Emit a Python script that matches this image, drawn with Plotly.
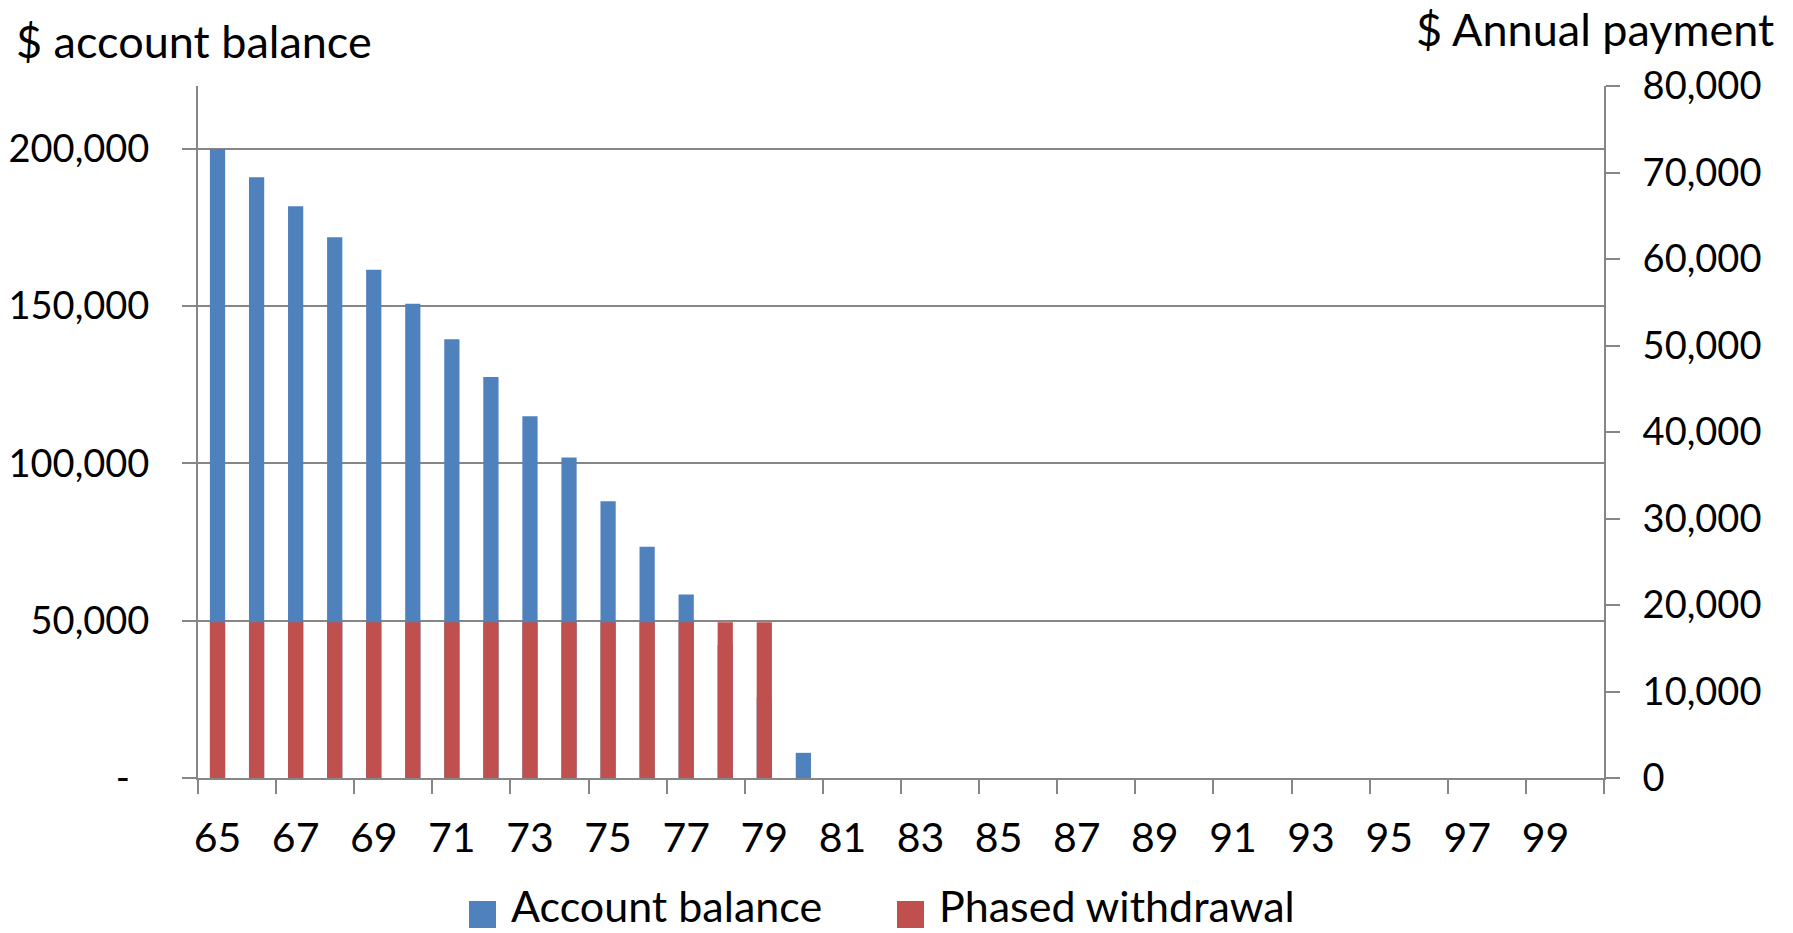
import plotly.graph_objects as go

ages = list(range(65, 101))
account_balance = [200000, 191000, 181800, 171900, 161600, 150800, 139500, 127500,
                   115000, 101900, 88000, 73500, 58300, 42300, 25500, 8000] + [0] * 20
phased_withdrawal = [18000] * 15 + [0] * 21

left_tickvals = [0, 50000, 100000, 150000, 200000]
left_ticktext = ["-\u00a0\u00a0", "50,000", "100,000", "150,000", "200,000"]
right_tickvals = list(range(0, 80001, 10000))
right_ticktext = ["0"] + [f"{v:,}" for v in right_tickvals[1:]]
x_tickvals = list(range(65, 100, 2))
x_boundaries = [a - 0.5 for a in range(65, 102, 2)]

series_names = ["Account balance", "Phased withdrawal"]
series_colors = ["#4F81BD", "#C0504D"]

FONT = "Lato"
GRID = "#868686"
W, H = 1793, 933
L, R, T, B = 198, 189, 86, 155
pw, ph = W - L - R, H - T - B

def px_x(p):
    return (p - L) / pw

def px_y(p):
    return (H - B - p) / ph

fig = go.Figure()
fig.add_trace(go.Bar(x=ages, y=account_balance, name=series_names[0],
                     marker=dict(color=series_colors[0], line=dict(width=0)), width=0.39,
                     yaxis="y"))
fig.add_trace(go.Bar(x=ages, y=phased_withdrawal, name=series_names[1],
                     marker=dict(color=series_colors[1], line=dict(width=0)), width=0.39,
                     yaxis="y2"))

# legend drawn as swatches + labels (to match the large square keys)
shapes = []
annotations = []
legend_sw = [469, 897]
legend_tx = [509, 937]
for i in range(2):
    shapes.append(dict(type="rect", xref="paper", yref="paper",
                       x0=px_x(legend_sw[i]), x1=px_x(legend_sw[i] + 27),
                       y0=px_y(928), y1=px_y(901),
                       fillcolor=series_colors[i], line=dict(width=0)))
    annotations.append(dict(text=series_names[i], xref="paper", yref="paper",
                            x=px_x(legend_tx[i]), y=px_y(906), xanchor="left",
                            yanchor="middle", showarrow=False,
                            font=dict(size=43)))

annotations += [
    dict(text="$ account balance", xref="paper", yref="paper",
         x=px_x(14), y=px_y(41), xanchor="left", yanchor="middle",
         showarrow=False, font=dict(size=45)),
    dict(text="$ Annual payment", xref="paper", yref="paper",
         x=px_x(1776), y=px_y(29), xanchor="right", yanchor="middle",
         showarrow=False, font=dict(size=45)),
]

fig.update_layout(
    width=W, height=H,
    margin=dict(l=L, r=R, t=T, b=B, autoexpand=False),
    paper_bgcolor="white", plot_bgcolor="white",
    barmode="overlay",
    showlegend=False,
    font=dict(family=FONT, size=38, color="black"),
    xaxis=dict(range=[64.5, 100.5], tickvals=x_tickvals, ticks="",
               showline=True, linecolor=GRID, linewidth=2,
               showgrid=False, zeroline=False,
               ticklabelstandoff=23,
               minor=dict(tickvals=x_boundaries, ticks="outside", ticklen=14,
                          tickcolor=GRID, tickwidth=2, showgrid=False),
               tickfont=dict(size=41)),
    yaxis=dict(range=[0, 220000], tickvals=left_tickvals, ticktext=left_ticktext,
               ticks="outside", ticklen=14, tickcolor=GRID, tickwidth=2,
               showline=True, linecolor=GRID, linewidth=2,
               showgrid=True, gridcolor=GRID, gridwidth=2, zeroline=False,
               ticklabelstandoff=25, tickfont=dict(size=38)),
    yaxis2=dict(range=[0, 80000], tickvals=right_tickvals, ticktext=right_ticktext,
                overlaying="y", side="right",
                ticks="outside", ticklen=14, tickcolor=GRID, tickwidth=2,
                showline=True, linecolor=GRID, linewidth=2,
                showgrid=False, zeroline=False,
                ticklabelstandoff=15, tickfont=dict(size=38)),
    shapes=shapes,
    annotations=annotations,
)

fig.write_html("out.html", config={"displayModeBar": False},
               post_script="document.body.style.margin='0';document.body.style.overflow='hidden';")
